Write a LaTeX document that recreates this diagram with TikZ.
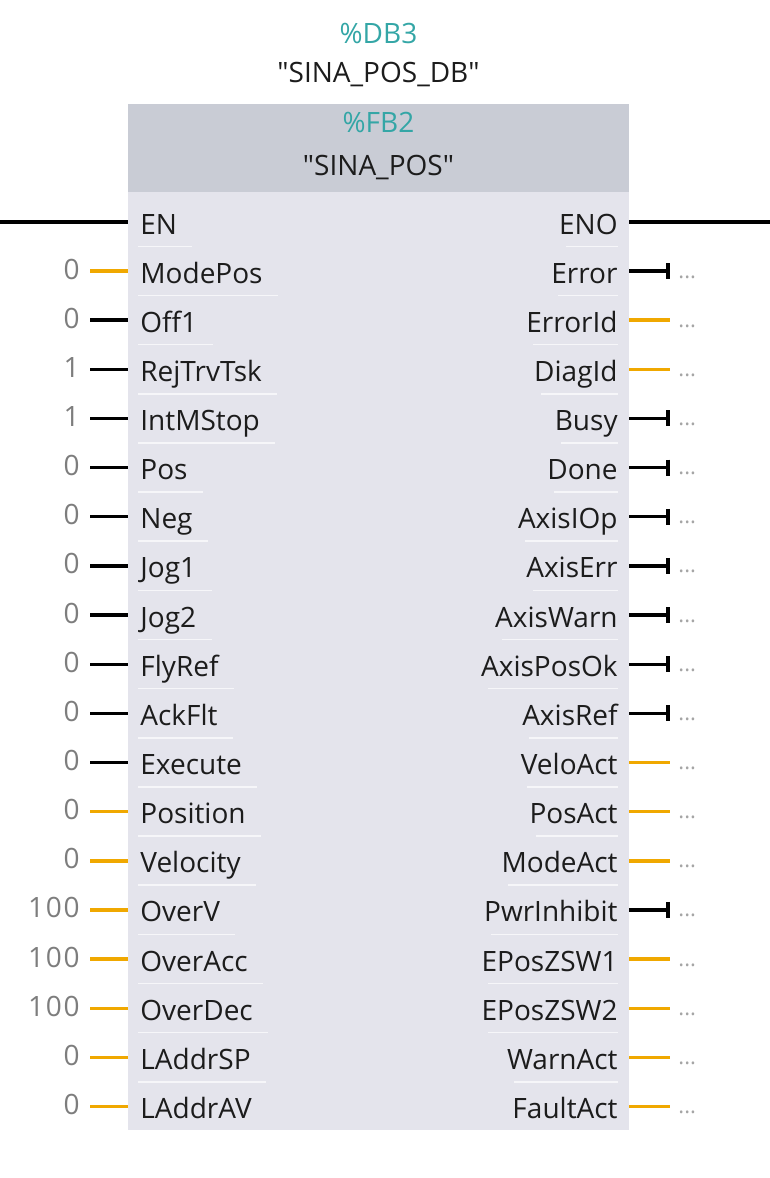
\documentclass[tikz,border=0pt]{standalone}
\usepackage{fontspec}
\setmainfont{Open Sans}[Ligatures=TeXOff]
\usetikzlibrary{arrows.meta}

\definecolor{pinorange}{RGB}{240,168,0}
\definecolor{hdrgray}{RGB}{201,204,213}
\definecolor{bodygray}{RGB}{228,228,236}
\definecolor{instteal}{RGB}{52,166,166}
\definecolor{valgray}{RGB}{125,125,125}
\definecolor{dotgray}{RGB}{165,165,165}
\definecolor{pintext}{RGB}{28,28,28}

\begin{document}
\begin{tikzpicture}[x=0.5pt,y=-0.5pt,
	font=\fontsize{14}{16}\selectfont,
	inpin/.style={anchor=west, inner xsep=6pt, inner ysep=0pt, text height=18pt, text depth=6pt, text=pintext},
	outpin/.style={anchor=east, inner xsep=5.5pt, inner ysep=0pt, text height=18pt, text depth=6pt, text=pintext},
	pinval/.style={anchor=east, inner xsep=5pt, inner ysep=0pt, text height=10pt, text depth=2pt, text=valgray, font=\fontsize{14}{16}\selectfont\addfontfeatures{LetterSpace=6}},
	pindots/.style={anchor=west, inner xsep=4pt, inner ysep=0pt, text height=8pt, text depth=1pt, text=dotgray, font=\fontsize{11}{13}\selectfont},
	wire/.style={line width=1.7pt},
	boolout/.style={wire, -{Bar[width=8pt,line width=2pt]}},
	sepline/.style={white, line width=0.8pt, opacity=0.7}]
	\useasboundingbox (0,0) rectangle (770,1178);

	% block body and header
	\fill[bodygray] (128,192) rectangle (629,1130);
	\fill[hdrgray] (128,104) rectangle (629,192);

	\node[anchor=base, text=instteal] (idb) at (378.5,43) {\%DB3};
	\node[anchor=base, text=pintext] (ndb) at (378.5,82) {"SINA\_POS\_DB"};
	\node[anchor=base, text=instteal] (ifb) at (378.5,132) {\%FB2};
	\node[anchor=base, text=pintext] (nfb) at (378.5,175) {"SINA\_POS"};

	% enable in / out
	\coordinate (rail) at (0,222);
	\coordinate (railend) at (770,222);
	\node[inpin] (en) at (128,222) {EN};
	\node[outpin] (eno) at (629,222) {ENO};
	\draw[wire] (rail) -- (en.west);
	\draw[wire] (eno.east) -- (railend);
	\draw[sepline] ([xshift=5pt]en.south west) -- ([xshift=1.5pt]en.south east);
	\draw[sepline] ([xshift=9pt]eno.south west) -- ([xshift=-5.5pt]eno.south east);

	% inputs
	\foreach \nm/\val/\col [count=\k] in {ModePos/0/pinorange, Off1/0/black, RejTrvTsk/1/black, IntMStop/1/black,
		Pos/0/black, Neg/0/black, Jog1/0/black, Jog2/0/black, FlyRef/0/black, AckFlt/0/black, Execute/0/black,
		Position/0/pinorange, Velocity/0/pinorange, OverV/100/pinorange, OverAcc/100/pinorange,
		OverDec/100/pinorange, LAddrSP/0/pinorange, LAddrAV/0/pinorange}
	{
		\node[inpin] (in\k) at (128,{271+49.15*(\k-1)}) {\nm};
		\node[pinval] (v\k) at (90,{271+49.15*(\k-1)}) {\val};
		\draw[wire, \col] (v\k.east) -- (in\k.west);
		\draw[sepline] ([xshift=5pt]in\k.south west) -- ([xshift=1.5pt]in\k.south east);
	}

	% outputs
	\foreach \nm/\tip/\col [count=\k] in {Error/boolout/black, ErrorId/wire/pinorange, DiagId/wire/pinorange,
		Busy/boolout/black, Done/boolout/black, AxisIOp/boolout/black, AxisErr/boolout/black,
		AxisWarn/boolout/black, AxisPosOk/boolout/black, AxisRef/boolout/black, VeloAct/wire/pinorange,
		PosAct/wire/pinorange, ModeAct/wire/pinorange, PwrInhibit/boolout/black, EPosZSW1/wire/pinorange,
		EPosZSW2/wire/pinorange, WarnAct/wire/pinorange, FaultAct/wire/pinorange}
	{
		\node[outpin] (out\k) at (629,{271+49.15*(\k-1)}) {\nm};
		\node[pindots] (d\k) at (670,{271+49.15*(\k-1)}) {...};
		\draw[\tip, \col] (out\k.east) -- (d\k.west);
		\draw[sepline] ([xshift=9pt]out\k.south west) -- ([xshift=-5.5pt]out\k.south east);
	}
\end{tikzpicture}
\end{document}
